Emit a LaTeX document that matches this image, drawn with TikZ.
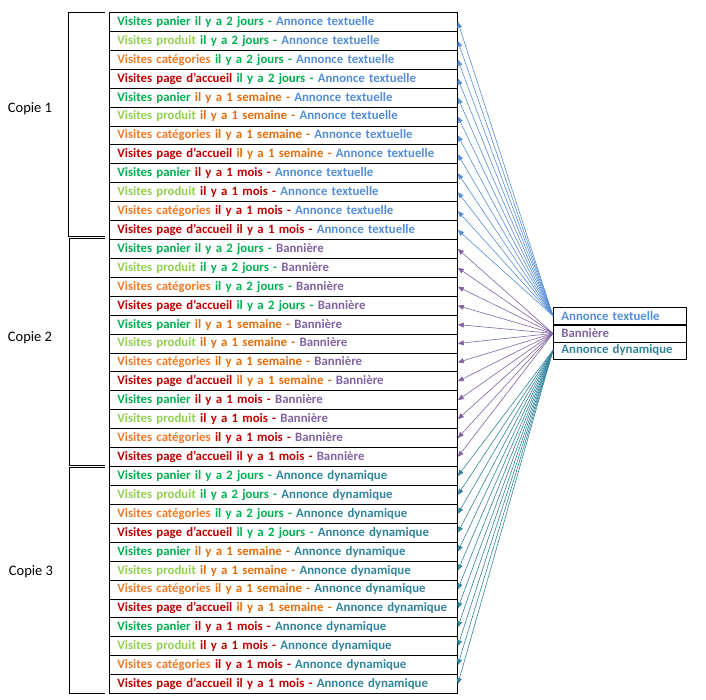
\documentclass[tikz,border=0pt]{standalone}
\usepackage{fontspec}
\setmainfont{Carlito}
\usetikzlibrary{arrows.meta}
\definecolor{panier}{HTML}{00B050}
\definecolor{produit}{HTML}{92D050}
\definecolor{categ}{HTML}{F07A28}
\definecolor{accueil}{HTML}{C00000}
\definecolor{jours}{HTML}{00B050}
\definecolor{semaine}{HTML}{E36C09}
\definecolor{mois}{HTML}{C00000}
\definecolor{textuelle}{HTML}{558ED5}
\definecolor{banniere}{HTML}{8064A2}
\definecolor{dynamique}{HTML}{31859C}
\begin{document}
\begin{tikzpicture}[x=1pt,y=-1pt,
  ligne/.style={draw,line width=0.8pt,anchor=north west,text width=332pt,
    align=left,inner xsep=8pt,inner ysep=0pt,minimum height=18.92pt,
    font=\fontsize{12.8}{14}\selectfont\bfseries},
  choix/.style={draw,line width=0.8pt,anchor=north west,text width=117pt,
    align=left,inner xsep=8pt,inner ysep=0pt,minimum height=17pt,
    font=\fontsize{12.8}{14}\selectfont\bfseries},
  copie/.style={font=\fontsize{14.5}{16}\selectfont},
  fleche/.style={->,line width=0.6pt},
  >={Triangle[length=6pt,width=5pt]}]
\useasboundingbox (0,0) rectangle (706,700);
% lignes du tableau
\foreach \ann/\anncol [count=\g from 0] in {Annonce textuelle/textuelle,Bannière/banniere,Annonce dynamique/dynamique}
 \foreach \tim/\timcol [count=\t from 0] in {2 jours/jours,1 semaine/semaine,1 mois/mois}
  \foreach \pag/\pagcol [count=\p] in {panier/panier,produit/produit,catégories/categ,page d’accueil/accueil}
  {
   \pgfmathtruncatemacro{\n}{12*\g+4*\t+\p}
   \node[ligne] (r\n) at (109,{12+(\n-1)*18.92}) {\mbox{\textcolor{\pagcol}{Visites \pag} \textcolor{\timcol}{il y a \tim\ -} \textcolor{\anncol}{\ann}}};
  }
% choix d'annonce
\node[choix,text=textuelle] (annTxt) at (553,307) {Annonce textuelle};
\node[choix,text=banniere] (annBan) at (553,324.5) {Bannière};
\node[choix,text=dynamique] (annDyn) at (553,341.5) {Annonce dynamique};
% fleches
\foreach \n in {1,...,12} \draw[fleche,textuelle] (annTxt.west) -- (r\n.east);
\foreach \n in {13,...,24} \draw[fleche,banniere] (annBan.west) -- (r\n.east);
\foreach \n in {25,...,36} \draw[fleche,dynamique] (annDyn.west) -- (r\n.east);
% accolades
\draw[line width=0.8pt] (105,12) -- (68,12) -- (68,236) -- (105,236);
\draw[line width=0.8pt] (105,238.5) -- (69,238.5) -- (69,465) -- (105,465);
\draw[line width=0.8pt] (105,467.5) -- (69,467.5) -- (69,693) -- (105,693);
\node[copie] (copie1) at (30,109) {Copie 1};
\node[copie] (copie2) at (30,338) {Copie 2};
\node[copie] (copie3) at (31,572) {Copie 3};
\end{tikzpicture}
\end{document}
